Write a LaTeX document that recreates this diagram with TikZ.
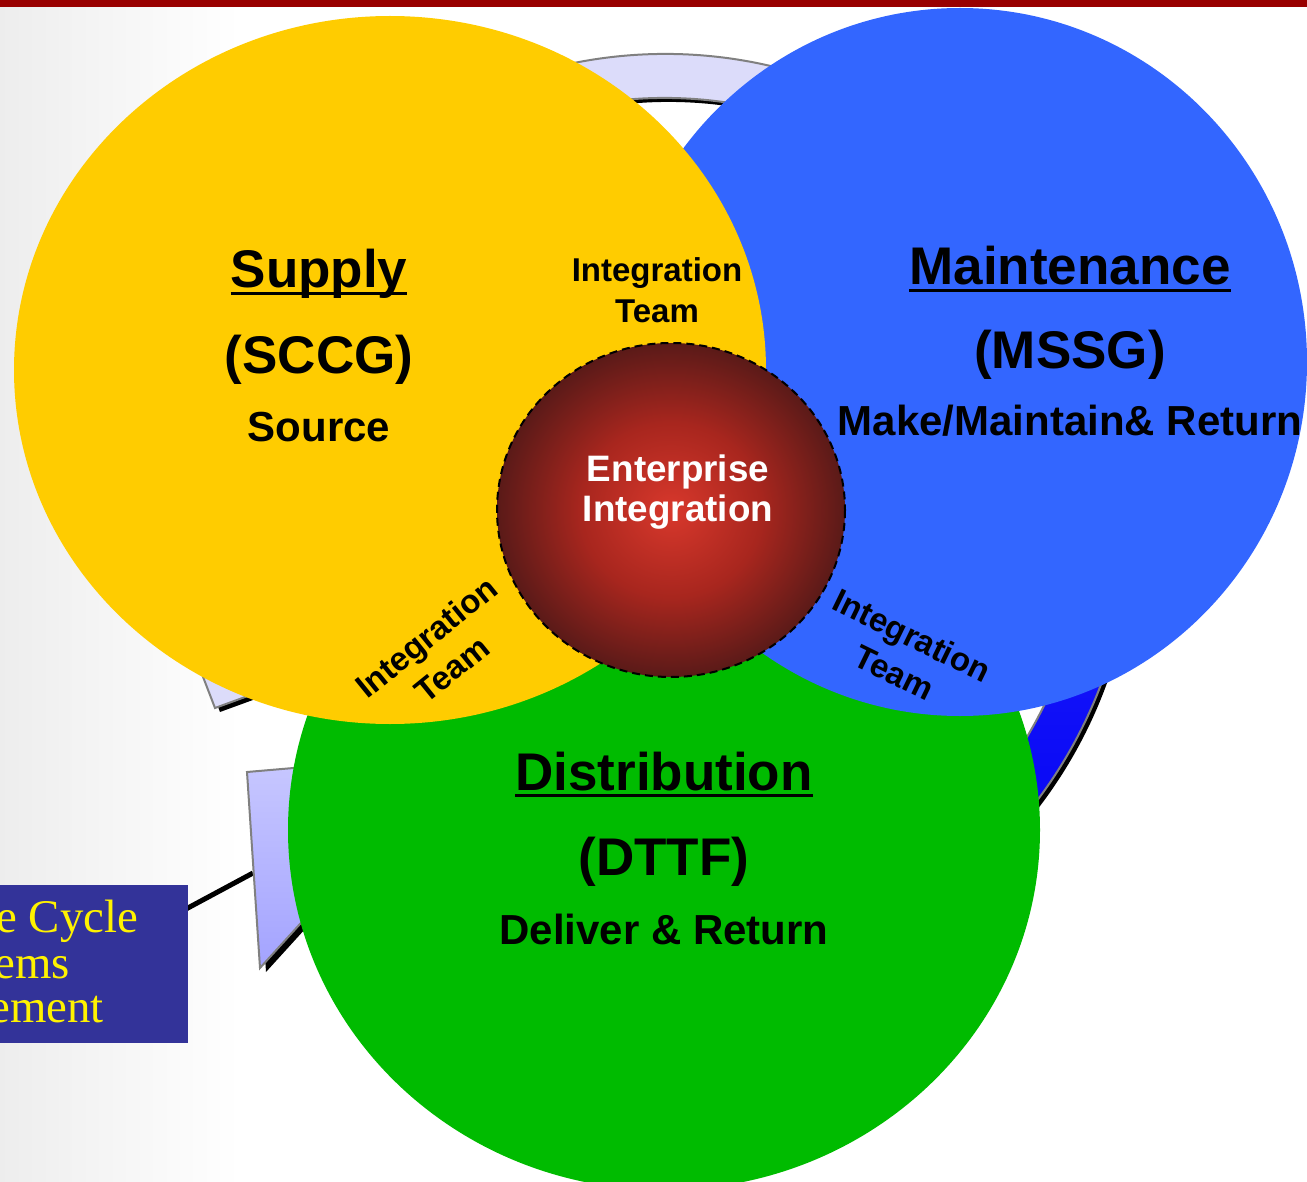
\documentclass[tikz,border=0pt]{standalone}
\usepackage{fontspec}
\setmainfont{Liberation Sans}
\newfontfamily\boxfont{Liberation Serif}
\usepackage{tikz}
\usetikzlibrary{positioning,calc}

\newsavebox{\headbox}
\newcommand{\headul}[1]{\sbox{\headbox}{#1}\rlap{\vrule width\wd\headbox height -2.2pt depth 3.7pt}\usebox{\headbox}}

\definecolor{supplyyellow}{HTML}{FFCC00}
\definecolor{maintblue}{HTML}{3366FF}
\definecolor{distgreen}{HTML}{00BB00}
\definecolor{boxblue}{HTML}{333399}
\definecolor{ringlav}{HTML}{DCDCFA}
\definecolor{topred}{HTML}{990000}
\definecolor{corered}{HTML}{D8382C}
\definecolor{coremid}{HTML}{A8261E}
\definecolor{coredark}{HTML}{5A1A18}
\pgfdeclareradialshading{coreshade}{\pgfpoint{0bp}{0bp}}{color(0bp)=(corered); color(13bp)=(coremid); color(25bp)=(coredark); color(50bp)=(coredark)}

\begin{document}
\begin{tikzpicture}[x=0.5pt, y=-0.5pt,
  ringedge/.style={draw=gray, line width=1pt},
  head/.style={font=\fontsize{26.5}{30}\bfseries\selectfont, anchor=base, inner sep=0pt},
  sub/.style={font=\fontsize{21}{25}\bfseries\selectfont, anchor=base, inner sep=0pt},
  team/.style={font=\fontsize{16.5}{20.5}\bfseries\selectfont, align=center, inner sep=0pt},
  cycletext/.style={font=\boxfont\fontsize{23.4}{28}\selectfont, text=yellow, anchor=base west, inner sep=0pt}]
\useasboundingbox (0,0) rectangle (1307,1182);

\shade[left color=gray!14, right color=white] (0,7) rectangle (240,1182);
\fill[topred] (0,0) rectangle (1307,7);

\begin{scope}[shift={(665,520)}]
\fill[black, shift={(4,4)}] (-150:466) arc[start angle=-150, end angle=-30, radius=466] -- (-30:422) arc[start angle=-30, end angle=-150, radius=422] -- cycle;
\filldraw[ringedge, fill=ringlav] (-150:466) arc[start angle=-150, end angle=-30, radius=466] -- (-30:422) arc[start angle=-30, end angle=-150, radius=422] -- cycle;
\fill[black, shift={(4,4)}] (-15:466) arc[start angle=-15, end angle=60, radius=466] -- (60:422) arc[start angle=60, end angle=-15, radius=422] -- cycle;
\shadedraw[ringedge, top color=blue!85!white, bottom color=blue!95!black] (-15:466) arc[start angle=-15, end angle=60, radius=466] -- (60:422) arc[start angle=60, end angle=-15, radius=422] -- cycle;
\end{scope}

\coordinate (ringjoin) at (253,873);
\draw[line width=2.5pt] (186,909) -- (ringjoin);
\fill[black, shift={(5,4)}] (190,643) -- (215,708) -- (300,677) -- (280,620) -- cycle;
\filldraw[ringedge, fill=ringlav] (190,643) -- (215,708) -- (300,677) -- (280,620) -- cycle;
\fill[black, shift={(6,4)}] (247,772) -- (340,764) -- (340,880) -- (260,968) -- cycle;
\shadedraw[ringedge, top color=blue!22!white, bottom color=blue!36!white] (247,772) -- (340,764) -- (340,880) -- (260,968) -- cycle;

\node[fill=boxblue, anchor=north west, minimum width=94pt, minimum height=79pt, inner sep=0pt] (cyclebox) at (0,885) {};
\begin{scope}
\clip (0,885) rectangle (188,1043);
\node[cycletext] (cyclea) at (-4,932) {e Cycle};
\node[cycletext] (cycleb) at (-6,978) {ems};
\node[cycletext] (cyclec) at (-11,1022) {ement};
\end{scope}

\fill[distgreen] (664,830) ellipse[x radius=376, y radius=360];
\fill[maintblue] (960,362) ellipse[x radius=347, y radius=354];
\fill[supplyyellow] (390,370) ellipse[x radius=376, y radius=354];

\shade[shading=coreshade] (671,510) ellipse[x radius=174, y radius=167];
\draw[line width=1pt, dash pattern=on 4pt off 2.5pt] (671,510) ellipse[x radius=174, y radius=167];

\node[head] (supply) at (319,288) {\headul{Supply}};
\node[head] (sccg) at (319,373) {(SCCG)};
\node[sub] (source) at (319,441) {Source};

\node[head] (maint) at (1070,285) {\headul{Maintenance}};
\node[head] (mssg) at (1070,369) {(MSSG)};
\node[sub] (make) at (1070,435) {Make/Maintain\& Return};

\node[head] (dist) at (664,790) {\headul{Distribution}};
\node[head] (dttf) at (664,875) {(DTTF)};
\node[sub] (deliver) at (664,944) {Deliver \& Return};

\node[team] (teamtop) at (657,290) {Integration\\Team};
\node[team, rotate=39] (teamleft) at (439,653) {Integration\\Team};
\node[team, rotate=-26] (teamright) at (903,654) {Integration\\Team};

\node[font=\fontsize{18.4}{20}\bfseries\selectfont, text=white, align=center, inner sep=0pt] (core) at (678,492) {Enterprise\\Integration};
\end{tikzpicture}
\end{document}
